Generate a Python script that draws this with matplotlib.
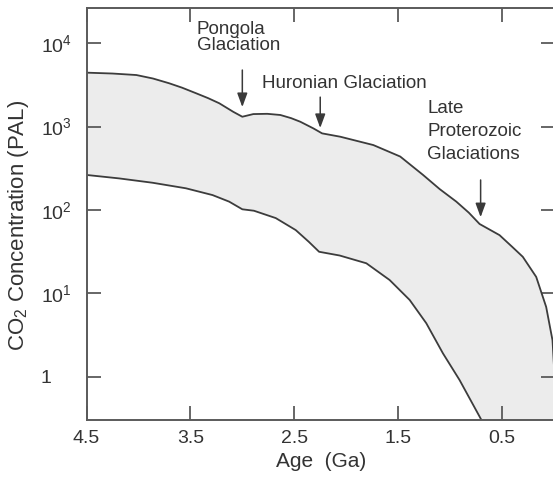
import numpy as np
import matplotlib.pyplot as plt
from matplotlib.ticker import FixedLocator, FixedFormatter

plt.rcParams['font.family'] = ['Liberation Sans', 'DejaVu Sans']
plt.rcParams['mathtext.fontset'] = 'custom'
plt.rcParams['mathtext.rm'] = 'Liberation Sans'
plt.rcParams['mathtext.it'] = 'Liberation Sans:italic'
plt.rcParams['mathtext.default'] = 'regular'

# upper bound of CO2 (PAL) vs age (Ga)
upper_age = [4.5, 4.25, 4.02, 3.86, 3.705, 3.58, 3.444, 3.33, 3.222, 3.087, 3.0,
             2.894, 2.76, 2.634, 2.53, 2.441, 2.316, 2.232, 2.057, 1.739, 1.48,
             1.26, 1.10, 0.94, 0.82, 0.716, 0.524, 0.40, 0.30, 0.171, 0.075, 0.014, -0.02]
upper_co2 = [4420, 4315, 4140, 3760, 3300, 2920, 2500, 2190, 1900, 1500, 1310,
             1410, 1420, 1375, 1260, 1140, 950, 828, 755, 600, 437,
             263, 178, 126, 93, 68, 50, 36, 27.5, 15.8, 6.9, 2.75, 0.5]

# lower bound
lower_age = [4.5, 4.185, 3.863, 3.543, 3.287, 3.127, 3.0, 2.888, 2.678, 2.486, 2.361,
             2.261, 2.063, 1.806, 1.582, 1.389, 1.229, 1.069, 0.909, 0.716, 0.55, -0.02]
lower_co2 = [263, 239, 212, 182, 151, 126, 102, 98, 80, 57.5, 41.7,
             31.6, 28.5, 23, 14.5, 8.36, 4.40, 1.92, 0.92, 0.335, 0.14, 0.14]

yticks = [1, 10, 100, 1000, 10000]
ytick_labels = ['1', '10$^1$', '10$^2$', '10$^3$', '10$^4$']
xticks = [4.5, 3.5, 2.5, 1.5, 0.5]
xtick_labels = ['4.5', '3.5', '2.5', '1.5', '0.5']

events = ['Pongola\nGlaciation', 'Huronian Glaciation', 'Late\nProterozoic\nGlaciations']
event_age = [3.0, 2.25, 0.706]
arrow_top = [4750, 2250, 229]
arrow_tip = [1710, 960, 82]

line_col = '#3c3c3c'
axis_col = '#5a5a5a'
text_col = '#333333'

fig = plt.figure(figsize=(5.53, 4.79), dpi=100)
ax = fig.add_axes([86.5 / 553, 1 - 420 / 479, (555 - 86.5) / 553, (420 - 8) / 479])

poly_x = upper_age + lower_age[::-1]
poly_y = upper_co2 + lower_co2[::-1]
ax.fill(poly_x, poly_y, color='#ececec', lw=0, zorder=1)
ax.plot(upper_age, upper_co2, color=line_col, lw=1.3, zorder=2)
ax.plot(lower_age, lower_co2, color=line_col, lw=1.3, zorder=2)

ax.set_yscale('log')
ax.set_xlim(4.5, -0.01)
ax.set_ylim(0.305, 26300)

ax.yaxis.set_major_locator(FixedLocator(yticks))
ax.yaxis.set_major_formatter(FixedFormatter(ytick_labels))
ax.yaxis.set_minor_locator(FixedLocator([]))
ax.set_xticks(xticks)
ax.set_xticklabels(xtick_labels)

ax.tick_params(direction='in', length=10, width=1.3, color=axis_col,
               labelsize=14, labelcolor=text_col, top=True, right=True)
ax.tick_params(axis='y', pad=33)
ax.tick_params(axis='x', pad=7)
for lab in ax.get_yticklabels():
    lab.set_horizontalalignment('left')
for sp in ax.spines.values():
    sp.set_color(axis_col)
    sp.set_linewidth(1.4)

ax.set_xlabel('Age  (Ga)', fontsize=15, color=text_col, labelpad=4)
ax.set_ylabel('CO$_2$ Concentration (PAL)', fontsize=16, color=text_col)
ax.yaxis.set_label_coords(-0.118, 0.473)

# arrows and labels for glaciations
for age, y0, y1 in zip(event_age, arrow_top, arrow_tip):
    ax.annotate('', xy=(age, y1), xytext=(age, y0),
                arrowprops=dict(arrowstyle='-|>,head_length=0.6,head_width=0.22',
                                color='#3a3a3a', lw=1.1,
                                mutation_scale=14, shrinkA=0, shrinkB=0))

ax.text(3.44, 18300, events[0], fontsize=13.5, color=text_col, va='top', ha='left',
        linespacing=0.95)
ax.text(2.81, 3310, events[1], fontsize=13.5, color=text_col, va='center', ha='left')
ax.text(1.22, 2075, events[2], fontsize=13.5, color=text_col, va='top', ha='left',
        linespacing=1.45)

fig.savefig('out.png', dpi=100)
